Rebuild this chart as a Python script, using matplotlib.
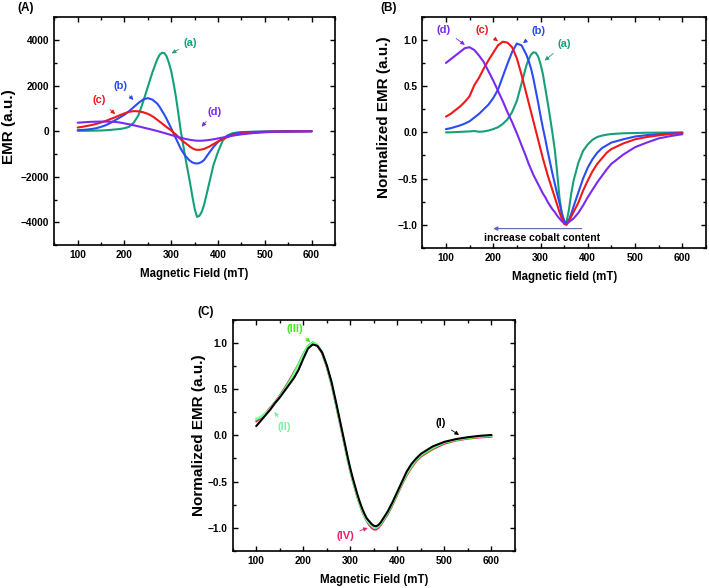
import numpy as np
import matplotlib
matplotlib.use('Agg')
import matplotlib.pyplot as plt
from matplotlib.ticker import MultipleLocator

plt.rcParams['font.family'] = ['Liberation Sans', 'DejaVu Sans']
plt.rcParams['font.weight'] = 'bold'

# field grid (mT) shared by all curves, finer around the resonance
field = [100, 110, 120, 130, 140, 150, 160, 170, 180, 190, 200, 210, 220, 230, 240, 250, 260,
         270, 275, 280, 285, 290, 295, 300, 305, 310, 315, 320, 325, 330, 335, 340, 345, 350, 355,
         360, 365, 370,
         380, 390, 400, 410, 420, 430, 440, 450,
         475, 500, 525, 550, 575, 600]

# (A) raw EMR signals
emr_a = [15, 15, 18, 20, 25, 30, 40, 55, 75, 95, 130, 190, 380, 700, 1300, 1950, 2600,
         3150, 3350, 3440, 3430, 3280, 3000, 2620, 2100, 1500, 800, 50, -550, -1150, -1700, -2250, -2850,
         -3400, -3760, -3720, -3550, -3250,
         -2380, -1500, -900, -420, -190, -100, -60, -40,
         -25, -15, -10, -6, -3, 0]
emr_b = [44, 55, 70, 95, 130, 190, 260, 360, 480, 600, 720, 880, 1060, 1240, 1390, 1450, 1380,
         1210, 1070, 900, 730, 540, 330, 120, -100, -320, -540, -760, -930, -1080, -1200, -1300, -1370,
         -1410, -1420, -1400, -1350, -1270,
         -980, -700, -470, -320, -210, -140, -90, -60,
         -35, -20, -12, -8, -5, -2]
emr_c = [160, 190, 230, 270, 320, 380, 450, 530, 610, 700, 780, 850, 880, 870, 830, 760, 650,
         500, 420, 340, 260, 180, 105, 30, -60, -150, -250, -350, -440, -520, -600, -680, -750,
         -800, -820, -820, -805, -780,
         -690, -570, -450, -350, -260, -190, -140, -100,
         -55, -30, -18, -12, -8, -5]
emr_d = [370, 385, 400, 410, 415, 420, 420, 415, 405, 380, 340, 300, 255, 210, 160, 110, 60,
         5, -22, -50, -80, -110, -140, -170, -200, -230, -260, -290, -315, -340, -360, -380, -395,
         -410, -418, -420, -418, -410,
         -390, -360, -320, -280, -240, -200, -170, -140,
         -85, -50, -30, -20, -10, -5]

# (B) normalized EMR
norm_a = [0.0, 0.0, 0.003, 0.005, 0.008, 0.01, 0.015, 0.006, 0.01, 0.02, 0.035, 0.055, 0.09, 0.14, 0.22, 0.34, 0.53,
          0.72, 0.79, 0.84, 0.865, 0.86, 0.82, 0.74, 0.63, 0.48, 0.33, 0.17, 0.0, -0.18, -0.42, -0.7, -0.88,
          -0.96, -0.97, -0.84, -0.66, -0.52,
          -0.33, -0.2, -0.13, -0.08, -0.05, -0.035, -0.025, -0.018,
          -0.01, -0.007, -0.004, -0.003, -0.002, 0.0]
norm_b = [0.035, 0.045, 0.06, 0.075, 0.095, 0.12, 0.16, 0.2, 0.25, 0.3, 0.37, 0.46, 0.6, 0.74, 0.87, 0.96, 0.94,
          0.84, 0.77, 0.69, 0.58, 0.45, 0.32, 0.18, 0.05, -0.07, -0.2, -0.32, -0.44, -0.55, -0.66, -0.76, -0.87,
          -0.96, -0.98, -0.95, -0.88, -0.8,
          -0.65, -0.5, -0.38, -0.29, -0.22, -0.17, -0.14, -0.11,
          -0.075, -0.045, -0.03, -0.02, -0.01, -0.005]
norm_c = [0.17, 0.2, 0.24, 0.28, 0.33, 0.39, 0.51, 0.59, 0.69, 0.78, 0.86, 0.94, 0.98, 0.97, 0.92, 0.8, 0.62,
          0.42, 0.32, 0.22, 0.12, 0.02, -0.08, -0.18, -0.28, -0.37, -0.46, -0.54, -0.62, -0.7, -0.78, -0.86, -0.93,
          -0.99, -1.0, -0.96, -0.91, -0.86,
          -0.76, -0.63, -0.52, -0.42, -0.34, -0.28, -0.22, -0.18,
          -0.12, -0.075, -0.05, -0.032, -0.018, -0.008]
norm_d = [0.75, 0.79, 0.83, 0.87, 0.91, 0.92, 0.89, 0.83, 0.76, 0.66, 0.56, 0.45, 0.34, 0.22, 0.11, -0.01, -0.14,
          -0.27, -0.34, -0.4, -0.46, -0.51, -0.56, -0.61, -0.66, -0.7, -0.75, -0.79, -0.83, -0.86, -0.9, -0.93, -0.96,
          -0.98, -0.985, -0.97, -0.95, -0.93,
          -0.87, -0.79, -0.7, -0.62, -0.54, -0.47, -0.4, -0.34,
          -0.24, -0.16, -0.11, -0.065, -0.04, -0.02]

# (C) normalized EMR, samples I-IV
fit_1 = [0.1, 0.16, 0.22, 0.28, 0.35, 0.41, 0.48, 0.55, 0.62, 0.71, 0.83, 0.94, 0.985, 0.97, 0.9, 0.76, 0.58,
         0.35, 0.23, 0.11, -0.01, -0.13, -0.25, -0.36, -0.46, -0.55, -0.64, -0.72, -0.79, -0.85, -0.9, -0.93, -0.96,
         -0.98, -0.985, -0.97, -0.94, -0.9,
         -0.82, -0.72, -0.61, -0.5, -0.39, -0.31, -0.25, -0.2,
         -0.12, -0.07, -0.04, -0.02, -0.005, 0.004]
fit_2 = [0.18, 0.2, 0.24, 0.29, 0.35, 0.42, 0.49, 0.57, 0.66, 0.76, 0.87, 0.96, 1.0, 0.98, 0.9, 0.75, 0.56,
         0.33, 0.21, 0.09, -0.03, -0.15, -0.27, -0.38, -0.48, -0.57, -0.66, -0.74, -0.81, -0.87, -0.92, -0.95, -0.98,
         -1.0, -1.0, -0.98, -0.95, -0.91,
         -0.83, -0.73, -0.62, -0.51, -0.41, -0.33, -0.26, -0.21,
         -0.13, -0.075, -0.045, -0.025, -0.012, -0.005]
fit_3 = [0.17, 0.2, 0.24, 0.29, 0.35, 0.42, 0.5, 0.58, 0.67, 0.77, 0.88, 0.97, 1.01, 0.98, 0.9, 0.75, 0.56,
         0.33, 0.21, 0.09, -0.03, -0.15, -0.27, -0.38, -0.48, -0.57, -0.66, -0.74, -0.81, -0.87, -0.92, -0.95, -0.98,
         -1.0, -1.0, -0.99, -0.96, -0.92,
         -0.84, -0.74, -0.63, -0.52, -0.42, -0.34, -0.27, -0.22,
         -0.14, -0.08, -0.05, -0.03, -0.015, -0.008]
fit_4 = [0.15, 0.19, 0.24, 0.3, 0.36, 0.43, 0.51, 0.59, 0.68, 0.77, 0.88, 0.96, 0.995, 0.97, 0.89, 0.74, 0.55,
         0.32, 0.2, 0.08, -0.04, -0.16, -0.28, -0.39, -0.49, -0.58, -0.67, -0.75, -0.82, -0.88, -0.93, -0.97, -1.0,
         -1.02, -1.02, -1.0, -0.97, -0.93,
         -0.85, -0.75, -0.64, -0.53, -0.43, -0.35, -0.28, -0.23,
         -0.15, -0.09, -0.055, -0.035, -0.022, -0.015]

GREEN = '#15a07a'
BLUE = '#2a4cf0'
RED = '#f01818'
PURPLE = '#7a2af0'

fig = plt.figure(figsize=(7.09, 5.88), dpi=100)
axA = fig.add_axes([0.0766, 0.5832, 0.3959, 0.3875])
axB = fig.add_axes([0.5956, 0.5782, 0.4002, 0.3934])
axC = fig.add_axes([0.3282, 0.0634, 0.3982, 0.3924])


def style(ax, ymaj, ymin):
    ax.set_xlim(50, 650)
    ax.xaxis.set_major_locator(MultipleLocator(100))
    ax.xaxis.set_minor_locator(MultipleLocator(50))
    ax.yaxis.set_major_locator(MultipleLocator(ymaj))
    ax.yaxis.set_minor_locator(MultipleLocator(ymin))
    ax.tick_params(which='both', direction='in', top=True, right=True, labelsize=7.3, width=1.0)
    ax.tick_params(which='major', length=3.5)
    ax.tick_params(which='minor', length=2)
    for s in ax.spines.values():
        s.set_linewidth(1.2)
    for lab in ax.get_xticklabels() + ax.get_yticklabels():
        lab.set_fontweight('bold')


def labels(ax, xl, yl, ylx, yly):
    ax.set_xlabel(xl, fontsize=8.3, fontweight='bold', labelpad=6)
    ax.set_ylabel(yl, fontsize=11, fontweight='bold')
    ax.yaxis.set_label_coords(ylx, yly)


def note(ax, text, xy, xytext, color):
    ax.annotate(text, xy=xy, xytext=xytext, color=color, fontsize=8, fontweight='bold',
                ha='center', va='center',
                arrowprops=dict(arrowstyle='-|>', color=color, lw=0.6, mutation_scale=6,
                                shrinkA=2, shrinkB=0))


def curve(ax, y, c):
    ax.plot(field, y, color=c, lw=1.5, solid_joinstyle='round', solid_capstyle='round')


# panel A
for y, c in [(emr_a, GREEN), (emr_b, BLUE), (emr_c, RED), (emr_d, PURPLE)]:
    curve(axA, y, c)
axA.set_ylim(-5000, 5000)
style(axA, 2000, 1000)
labels(axA, 'Magnetic Field (mT)', 'EMR (a.u.)', -0.135, 0.518)
note(axA, '(a)', (301, 3415), (341, 3880), GREEN)
note(axA, '(b)', (219, 1367), (192, 1980), BLUE)
note(axA, '(c)', (180, 750), (146, 1367), RED)
note(axA, '(d)', (365, 197), (393, 853), PURPLE)

# panel B
for y, c in [(norm_a, GREEN), (norm_b, BLUE), (norm_c, RED), (norm_d, PURPLE)]:
    curve(axB, y, c)
axB.set_ylim(-1.25, 1.25)
style(axB, 0.5, 0.25)
labels(axB, 'Magnetic field (mT)', 'Normalized EMR (a.u.)', -0.111, 0.565)
note(axB, '(d)', (140, 0.946), (96, 1.108), PURPLE)
note(axB, '(c)', (210, 0.986), (177, 1.108), RED)
note(axB, '(b)', (263, 0.964), (296, 1.095), BLUE)
note(axB, '(a)', (309, 0.776), (351, 0.957), GREEN)
axB.annotate('', xy=(200, -1.04), xytext=(387, -1.04),
             arrowprops=dict(arrowstyle='-|>', color='#5a6aa8', lw=0.8, mutation_scale=6,
                             shrinkA=0, shrinkB=0))
axB.text(303, -1.145, 'increase cobalt content', fontsize=7.5, fontweight='bold',
         ha='center', va='center')

# panel C
for y, c in [(fit_4, '#e8206e'), (fit_3, '#33ee22'), (fit_2, '#80ffa8'), (fit_1, 'black')]:
    curve(axC, y, c)
axC.set_ylim(-1.25, 1.25)
style(axC, 0.5, 0.25)
labels(axC, 'Magnetic Field (mT)', 'Normalized EMR (a.u.)', -0.095, 0.5)
note(axC, '(III)', (215, 1.01), (181, 1.155), '#44ee22')
note(axC, '(II)', (139, 0.255), (160, 0.086), '#80f0a8')
note(axC, '(I)', (531, 0.004), (493, 0.13), 'black')
note(axC, '(IV)', (337, -1.004), (290, -1.086), '#e8206e')

fig.text(0.025, 0.986, '(A)', fontsize=8.5, fontweight='bold', va='center')
fig.text(0.536, 0.986, '(B)', fontsize=8.5, fontweight='bold', va='center')
fig.text(0.279, 0.469, '(C)', fontsize=8.5, fontweight='bold', va='center')

fig.savefig('out.png', dpi=100)
